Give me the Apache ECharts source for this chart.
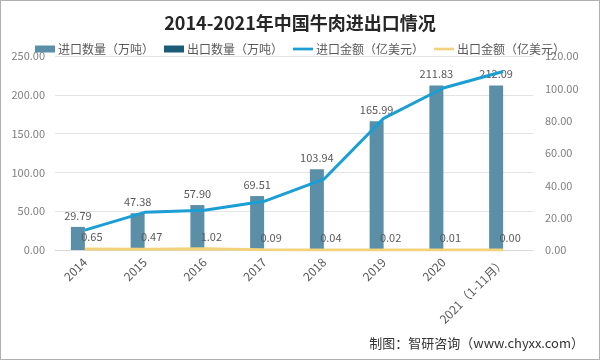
<!DOCTYPE html>
<html><head><meta charset="utf-8">
<script src="https://cdn.jsdelivr.net/npm/echarts@6/dist/echarts.min.js"></script>
<style>
html,body{margin:0;padding:0;background:#fff;}
#c{width:598px;height:358px;border:1px solid #b0b0b0;}
</style></head>
<body><div id="c"></div>
<script>
const categories = ['2014','2015','2016','2017','2018','2019','2020','2021（1-11月）'];
const importQty = [29.79,47.38,57.90,69.51,103.94,165.99,211.83,212.09];
const exportQty = [0.65,0.47,1.02,0.09,0.04,0.02,0.01,0.00];
const importVal = [12.3,23.3,24.6,30.1,43.8,81.4,100.2,110.4];
const exportVal = [0.6,0.4,0.8,0.1,0.05,0.03,0.02,0.01];
const title = '2014-2021年中国牛肉进出口情况';
const source = '制图：智研咨询（www.chyxx.com）';

const font = '"Noto Sans CJK SC", "Noto Sans", sans-serif';
const lineIcon = 'path://M0,0 L22,0 L22,3 L0,3 Z';
const chart = echarts.init(document.getElementById('c'));
chart.setOption({
  animation:false,
  textStyle:{fontFamily:font},
  title:[{text:title,left:'center',top:8,textStyle:{fontSize:18,fontWeight:'bold',color:'#262626',fontFamily:font}},
         {text:source,right:10,bottom:4,textStyle:{fontSize:13,fontWeight:'normal',color:'#333',fontFamily:font}}],
  legend:{top:37,left:'center',itemGap:10,itemWidth:20,itemHeight:7,
    textStyle:{fontSize:12,color:'#595959',fontFamily:font,padding:[0,0,0,-2]},
    data:[{name:'进口数量（万吨）',icon:'rect'},{name:'出口数量（万吨）',icon:'rect'},
          {name:'进口金额（亿美元）',icon:lineIcon},{name:'出口金额（亿美元）',icon:lineIcon}]},
  grid:{left:54,right:66,top:55,bottom:109},
  xAxis:{type:'category',data:categories,
    axisLine:{lineStyle:{color:'#d9d9d9'}},axisTick:{show:false},
    axisLabel:{rotate:45,color:'#595959',fontSize:12,margin:10,interval:0}},
  yAxis:[{type:'value',min:0,max:250,interval:50,
      axisLabel:{formatter:v=>v.toFixed(2),color:'#7f7f7f',fontSize:11,margin:10},
      splitLine:{lineStyle:{color:'#e3e3e3'}},axisLine:{show:false},axisTick:{show:false}},
    {type:'value',min:0,max:120,interval:20,
      axisLabel:{formatter:v=>v.toFixed(2),color:'#7f7f7f',fontSize:11,margin:12},
      splitLine:{show:false},axisLine:{show:false},axisTick:{show:false}}],
  series:[
    {name:'进口数量（万吨）',type:'bar',data:importQty,barWidth:14,barGap:'0%',itemStyle:{color:'#5b8fa8'},
      label:{show:true,position:'top',formatter:p=>p.value.toFixed(2),color:'#595959',fontSize:11,distance:6}},
    {name:'出口数量（万吨）',type:'bar',data:exportQty,barWidth:14,itemStyle:{color:'#1d5c78'},
      label:{show:true,position:'top',formatter:p=>p.value.toFixed(2),color:'#595959',fontSize:11,distance:7}},
    {name:'进口金额（亿美元）',type:'line',yAxisIndex:1,data:importVal,showSymbol:false,symbol:'none',
      lineStyle:{color:'#1a9ed4',width:3},itemStyle:{color:'#1a9ed4'},z:3},
    {name:'出口金额（亿美元）',type:'line',yAxisIndex:1,data:exportVal,showSymbol:false,symbol:'none',
      lineStyle:{color:'#f2d27a',width:3},itemStyle:{color:'#f2d27a'},z:3}
  ]
});
</script></body></html>
